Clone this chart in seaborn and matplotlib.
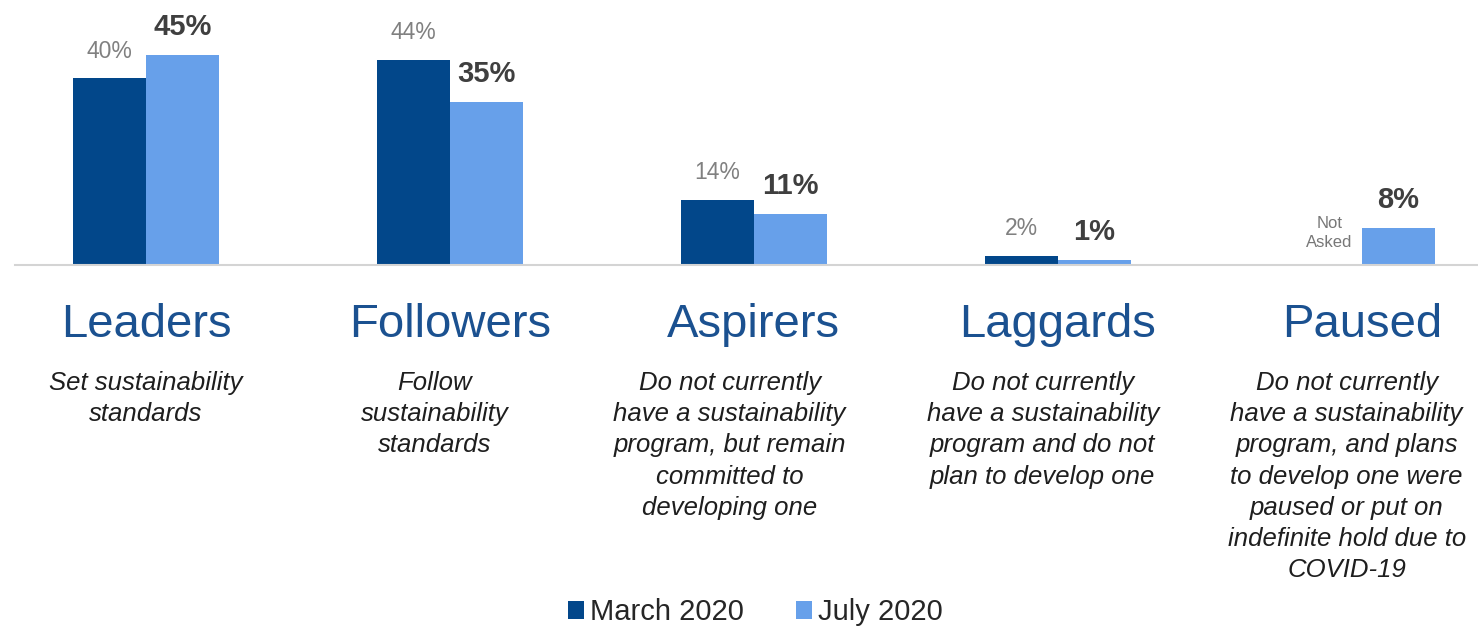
import matplotlib

matplotlib.use("Agg")

import matplotlib.pyplot as plt
import matplotlib.transforms as mtransforms
import numpy as np
import pandas as pd
import seaborn as sns

categories = ["Leaders", "Followers", "Aspirers", "Laggards", "Paused"]
descriptions = [
    "Set sustainability\nstandards",
    "Follow\nsustainability\nstandards",
    "Do not currently\nhave a sustainability\nprogram, but remain\ncommitted to\ndeveloping one",
    "Do not currently\nhave a sustainability\nprogram and do not\nplan to develop one",
    "Do not currently\nhave a sustainability\nprogram, and plans\nto develop one were\npaused or put on\nindefinite hold due to\nCOVID-19",
]
periods = ["March 2020", "July 2020"]
march_values = [40, 44, 14, 2, np.nan]  # Paused was not asked in March
july_values = [45, 35, 11, 1, 8]

DARK = "#02478a"
LIGHT = "#67a0ea"
NAME_BLUE = "#1b5190"
FONT = ["Liberation Sans", "DejaVu Sans"]

# small horizontal nudges of the description blocks (data units)
desc_shift = [0.0, -0.05, -0.08, -0.05, -0.05]

df = pd.DataFrame(
    {
        "category": categories * 2,
        "period": [periods[0]] * len(categories) + [periods[1]] * len(categories),
        "value": march_values + july_values,
    }
).dropna()

sns.set_theme(style="white")
plt.rcParams["font.family"] = FONT

fig = plt.figure(figsize=(14.78, 6.27), dpi=100)
ax = fig.add_axes([15 / 1478, 1 - 265 / 627, 1463 / 1478, 265 / 627])

sns.barplot(
    data=df,
    x="category",
    y="value",
    hue="period",
    order=categories,
    hue_order=periods,
    palette=[DARK, LIGHT],
    width=0.48,
    linewidth=0,
    saturation=1,
    ax=ax,
)

ax.set_xlim(-0.431, 4.382)
ax.set_ylim(0, 56.8)
ax.set_xlabel("")
ax.set_ylabel("")
ax.set_yticks([])
ax.set_xticks(range(len(categories)))
ax.set_xticklabels([])
ax.tick_params(axis="x", which="major", length=0)
ax.set_xticks([i + 0.5 for i in range(len(categories) - 1)], minor=True)
ax.tick_params(axis="x", which="minor", length=18, width=1.2, color="#d4d4d4", direction="out")
for side in ["left", "right", "top"]:
    ax.spines[side].set_visible(False)
ax.spines["bottom"].set_color("#d4d4d4")
ax.spines["bottom"].set_linewidth(1.5)

# value labels
march_bars, july_bars = ax.containers[0], ax.containers[1]
ax.bar_label(march_bars, fmt="{:.0f}%", padding=11, fontsize=16.5, color="#808080")
ax.bar_label(july_bars, fmt="{:.0f}%", padding=10, fontsize=21, fontweight="bold", color="#3f3f3f")

half = 0.48 / 4
ax.annotate(
    "Not\nAsked",
    xy=(4 - half, 0),
    xytext=(3, 11),
    textcoords="offset points",
    ha="center",
    va="bottom",
    fontsize=12,
    color="#777777",
    linespacing=1.35,
)

# category names and descriptions under the axis
trans = mtransforms.blended_transform_factory(ax.transData, fig.transFigure)
for i, (name, desc) in enumerate(zip(categories, descriptions)):
    ax.text(i, 1 - 337 / 627, name, transform=trans, ha="center", va="baseline",
            fontsize=34, color=NAME_BLUE)
    ax.text(i + desc_shift[i], 1 - 371 / 627, desc, transform=trans, ha="center", va="top",
            multialignment="center", fontsize=18.5, fontstyle="italic", color="#1e1e1e",
            linespacing=1.38)

sns.move_legend(
    ax,
    "center",
    bbox_to_anchor=(0.506, -1.31),
    ncol=2,
    frameon=False,
    title=None,
    fontsize=21,
    handlelength=0.55,
    handleheight=0.55,
    handletextpad=0.2,
    columnspacing=1.8,
)

fig.savefig("out.png", dpi=100)
